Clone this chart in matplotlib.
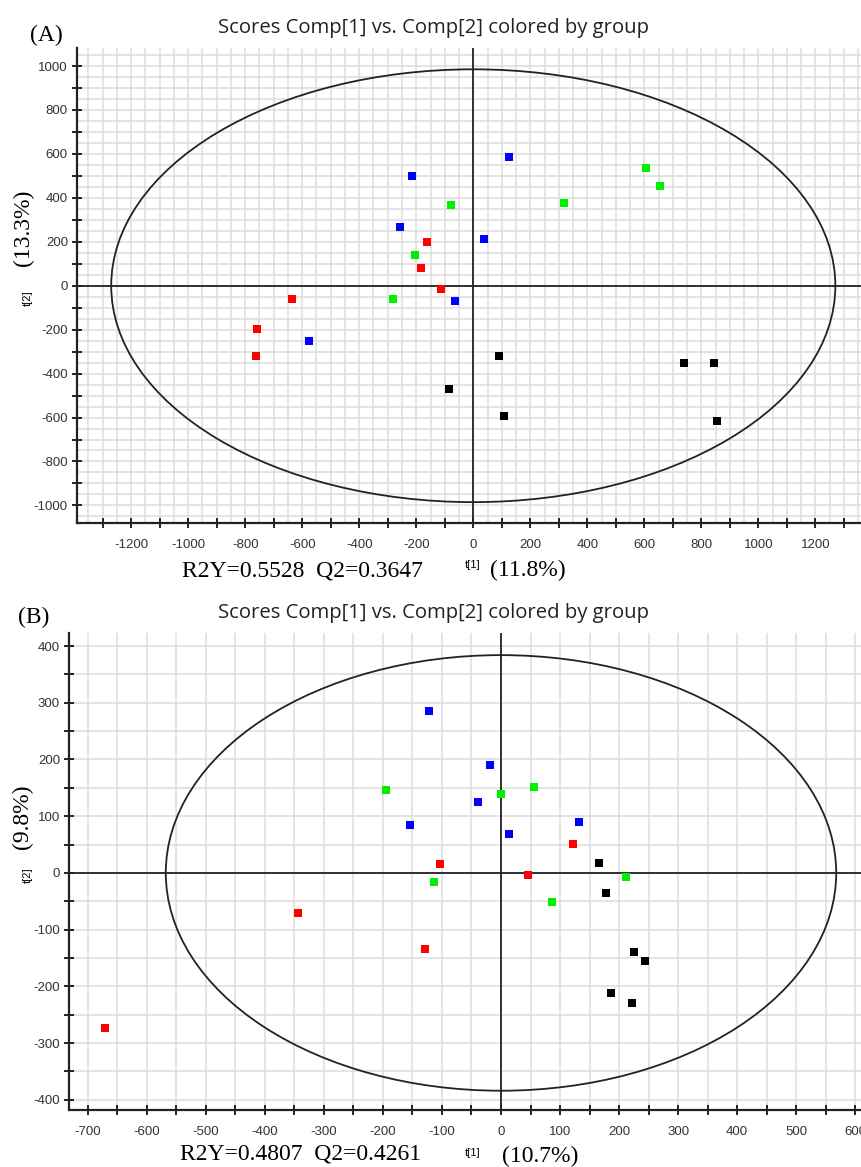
import numpy as np
import matplotlib
matplotlib.use("Agg")
from matplotlib import pyplot as plt
from matplotlib.patches import Ellipse
from matplotlib.ticker import MultipleLocator

plt.rcParams['axes.unicode_minus'] = False

# panel A scores (t[1], t[2])
a_red_x = [-162, -183, -112, -636, -757, -762]
a_red_y = [200, 82, -14, -59, -196, -318]
a_green_x = [607, 656, 319, -77, -204, -281]
a_green_y = [536, 455, 377, 368, 141, -59]
a_blue_x = [126, -214, -256, 39, -63, -575]
a_blue_y = [586, 500, 268, 214, -68, -250]
a_black_x = [91, -84, 109, 740, 845, 856]
a_black_y = [-318, -468, -591, -351, -351, -618]

# panel B scores
b_red_x = [-103, 46, 122, -344, -129, -671]
b_red_y = [16, -4, 51, -71, -134, -273]
b_green_x = [-195, 0, 56, -114, 86, 212]
b_green_y = [146, 139, 152, -16, -51, -7]
b_blue_x = [-122, -19, -39, -154, 14, 132]
b_blue_y = [286, 190, 125, 85, 69, 90]
b_black_x = [166, 178, 225, 244, 186, 222]
b_black_y = [18, -35, -139, -155, -212, -229]

W, H = 861, 1167
fig = plt.figure(figsize=(W / 100, H / 100), dpi=100)


def fx(px):
    return px / W


def fy(py):
    return 1 - py / H


serif = ['Liberation Serif', 'DejaVu Serif']
sans = ['Liberation Sans', 'DejaVu Sans']


def panel(rect, groups, xlim, ylim, ell, major, grid):
    ax = fig.add_axes(rect)
    ax.set_xlim(*xlim)
    ax.set_ylim(*ylim)
    ax.xaxis.set_major_locator(MultipleLocator(major[0]))
    ax.xaxis.set_minor_locator(MultipleLocator(major[0] / 2))
    ax.yaxis.set_major_locator(MultipleLocator(major[1]))
    ax.yaxis.set_minor_locator(MultipleLocator(major[1] / 2))
    # light grid
    for v in np.arange(np.ceil(xlim[0] / grid[0]) * grid[0], xlim[1], grid[0]):
        ax.axvline(v, color='#dcdcdc', lw=1.1, zorder=0)
    for v in np.arange(np.ceil(ylim[0] / grid[1]) * grid[1], ylim[1], grid[1]):
        ax.axhline(v, color='#dcdcdc', lw=1.1, zorder=0)
    ax.axhline(0, color='#222222', lw=1.3, zorder=1)
    ax.axvline(0, color='#222222', lw=1.3, zorder=1)
    ax.add_patch(Ellipse((0, 0), 2 * ell[0], 2 * ell[1], fill=False,
                         edgecolor='#222222', lw=1.3, zorder=2))
    for (x, y), c in zip(groups, ['#ff0000', '#00ee00', '#0000ff', '#000000']):
        ax.scatter(x, y, marker='s', s=28, color=c, linewidths=0, zorder=3)
    ax.spines['top'].set_visible(False)
    ax.spines['right'].set_visible(False)
    for s in ['left', 'bottom']:
        ax.spines[s].set_linewidth(1.6)
        ax.spines[s].set_color('#222222')
    ax.tick_params(which='both', direction='inout', length=7, width=1.4,
                   color='#222222', labelsize=9.5, labelcolor='#333333')
    for lab in ax.get_xticklabels() + ax.get_yticklabels():
        lab.set_family(sans)
    ax.tick_params(axis='x', pad=8)
    ax.tick_params(axis='y', pad=3)
    return ax


panel([fx(77), fy(523), 1 - fx(77), (523 - 48) / H],
      [(a_red_x, a_red_y), (a_green_x, a_green_y), (a_blue_x, a_blue_y), (a_black_x, a_black_y)],
      (-1390, 1360), (-1080, 1082), (1270, 985), (200, 200), (50, 50))

panel([fx(69), fy(1110), 1 - fx(69), (1110 - 633) / H],
      [(b_red_x, b_red_y), (b_green_x, b_green_y), (b_blue_x, b_blue_y), (b_black_x, b_black_y)],
      (-732, 610), (-418, 423), (568, 384), (100, 100), (50, 50))

title = 'Scores Comp[1] vs. Comp[2] colored by group'
tfam = ['Open Sans', 'DejaVu Sans']
fig.text(fx(434), fy(28), title, ha='center', va='center', fontsize=14.6, family=tfam, color='#222222')
fig.text(fx(434), fy(613), title, ha='center', va='center', fontsize=14.6, family=tfam, color='#222222')

fig.text(fx(46), fy(35), '(A)', ha='center', va='center', fontsize=17, family=serif)
fig.text(fx(34), fy(617), '(B)', ha='center', va='center', fontsize=17, family=serif)

fig.text(fx(28), fy(298), 't[2]', ha='center', va='center', rotation=90, fontsize=8, family=sans)
fig.text(fx(23), fy(228), '(13.3%)', ha='center', va='center', rotation=90, fontsize=17, family=serif)
fig.text(fx(28), fy(875), 't[2]', ha='center', va='center', rotation=90, fontsize=8, family=sans)
fig.text(fx(22), fy(817), '(9.8%)', ha='center', va='center', rotation=90, fontsize=17, family=serif)

fig.text(fx(182), fy(571), 'R2Y=0.5528  Q2=0.3647', ha='left', va='center', fontsize=17, family=serif)
fig.text(fx(473), fy(565), 't[1]', ha='center', va='center', fontsize=8, family=sans)
fig.text(fx(490), fy(570), '(11.8%)', ha='left', va='center', fontsize=17, family=serif)

fig.text(fx(180), fy(1154), 'R2Y=0.4807  Q2=0.4261', ha='left', va='center', fontsize=17, family=serif)
fig.text(fx(473), fy(1153), 't[1]', ha='center', va='center', fontsize=8, family=sans)
fig.text(fx(502), fy(1156), '(10.7%)', ha='left', va='center', fontsize=17, family=serif)

fig.savefig('out.png', dpi=100)
